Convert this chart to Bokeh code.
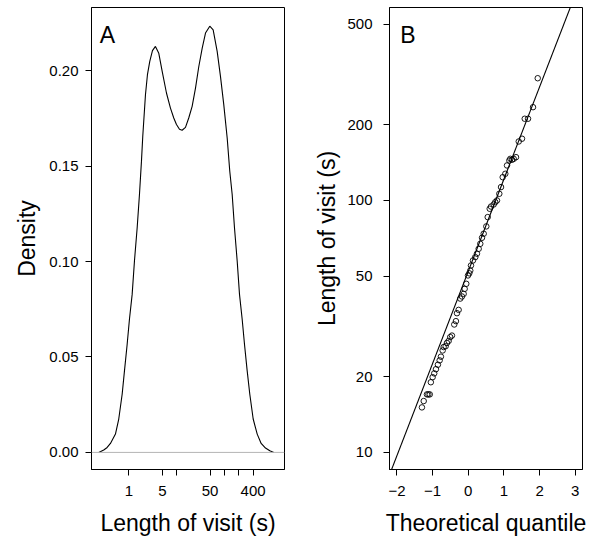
from bokeh.plotting import figure
from bokeh.layouts import row
from bokeh.models import Range1d, FixedTicker, Label, Span, NumeralTickFormatter
from bokeh.embed import file_html
from bokeh.resources import INLINE

# Panel A: density of visit length (seconds, log scale)
visit_len_s = [0.233, 0.296, 0.349, 0.409, 0.521, 0.611, 0.720, 0.805, 0.917, 1.024,
               1.167, 1.304, 1.486, 1.66, 1.828, 1.946, 2.218, 2.44, 2.73, 3.11,
               3.59, 4.22, 4.97, 6.11, 7.41, 8.69, 9.9, 11.45, 13.0, 15.3,
               17.9, 21.1, 24.8, 29.1, 34.3, 40.2, 49.4, 58.2, 70.6, 82.8,
               97.1, 114.5, 129.7, 145.7, 162.8, 185.5, 207.4, 236.0, 263.9, 300.6,
               341.0, 401.5, 487.5, 590.0, 727.8, 895.0, 1086.0]
density = [0.0, 0.0013, 0.0026, 0.0047, 0.0096, 0.0175, 0.0305, 0.0427, 0.0567, 0.0698,
           0.0828, 0.1003, 0.1177, 0.1351, 0.1526, 0.1655, 0.1874, 0.1979, 0.2049, 0.2105,
           0.2127, 0.2091, 0.1996, 0.1883, 0.1804, 0.1752, 0.1718, 0.1693, 0.1688, 0.1703,
           0.1752, 0.1813, 0.1909, 0.2022, 0.2118, 0.2197, 0.2233, 0.2214, 0.2101, 0.1970,
           0.1822, 0.1647, 0.1473, 0.1351, 0.1177, 0.1003, 0.0828, 0.0698, 0.0567, 0.0427,
           0.0305, 0.0175, 0.0096, 0.0047, 0.0023, 0.0009, 0.0]
a_x_ticks = [1, 5, 50, 400]
a_x_minor = [10, 100, 200]
a_y_ticks = [0.0, 0.05, 0.10, 0.15, 0.20]

# Panel B: quantile plot
theor_q = [-1.30, -1.25, -1.16, -1.12, -1.08, -1.05, -1.00, -0.955, -0.907, -0.851,
           -0.803, -0.767, -0.719, -0.691, -0.635, -0.598, -0.551, -0.506, -0.458, -0.393,
           -0.346, -0.317, -0.270, -0.225, -0.177, -0.129, -0.101, -0.056, -0.008, 0.028,
           0.056, 0.076, 0.132, 0.197, 0.244, 0.292, 0.337, 0.385, 0.433, 0.506,
           0.545, 0.601, 0.638, 0.713, 0.758, 0.806, 0.871, 0.919, 0.966, 1.039,
           1.087, 1.152, 1.180, 1.228, 1.275, 1.340, 1.416, 1.508, 1.584, 1.677,
           1.817, 1.949]
visit_sorted = [15.1, 16.0, 17.0, 17.0, 17.0, 19.0, 19.9, 20.6, 21.4, 22.3,
                23.2, 24.0, 25.4, 26.2, 26.4, 27.2, 27.7, 28.7, 29.1, 32.2,
                33.2, 35.7, 36.8, 40.8, 41.6, 42.6, 44.6, 46.7, 50.4, 51.4,
                52.7, 55.2, 57.8, 59.6, 61.5, 64.3, 67.3, 71.1, 73.8, 78.9,
                85.9, 92.7, 94.6, 96.4, 98.5, 100.0, 106.3, 113.0, 123.7, 127.6,
                137.7, 144.1, 146.3, 145.1, 146.3, 148.5, 171.4, 175.8, 211.0, 211.0,
                234.5, 305.5]
qq_intercept_log10 = 1.719
qq_slope_log10 = 0.3656
b_x_ticks = [-2, -1, 0, 1, 2, 3]
b_y_ticks = [10, 20, 50, 100, 200, 500]

FONT = "Liberation Sans"


def style(p):
    p.grid.visible = False
    p.outline_line_color = "black"
    p.outline_line_width = 1
    p.background_fill_color = "white"
    p.border_fill_color = "white"
    for ax in p.axis:
        ax.axis_line_color = "black"
        ax.major_tick_line_color = "black"
        ax.major_tick_out = 6
        ax.major_tick_in = 0
        ax.minor_tick_out = 6
        ax.minor_tick_in = 0
        ax.minor_tick_line_color = None
        ax.major_label_text_font = FONT
        ax.major_label_text_font_size = "15px"
        ax.major_label_text_color = "black"
        ax.axis_label_text_font = FONT
        ax.axis_label_text_font_size = "23px"
        ax.axis_label_text_font_style = "normal"
        ax.axis_label_text_color = "black"
    for ax in p.xaxis:
        ax.major_label_standoff = 10
        ax.axis_label_standoff = 11


p1 = figure(width=296, height=538, x_axis_type="log",
            x_range=Range1d(0.164, 1820), y_range=Range1d(-0.00895, 0.2331),
            output_backend="svg", toolbar_location=None,
            min_border_left=91, min_border_right=12, min_border_top=6, min_border_bottom=69)
style(p1)
p1.xaxis.ticker = FixedTicker(ticks=a_x_ticks, minor_ticks=a_x_minor)
p1.xaxis.minor_tick_line_color = "black"
p1.xaxis.formatter = NumeralTickFormatter(format="0")
p1.yaxis.ticker = FixedTicker(ticks=a_y_ticks)
p1.yaxis.formatter = NumeralTickFormatter(format="0.00")
p1.yaxis.major_label_standoff = 7
p1.yaxis.axis_label_standoff = 6
p1.xaxis.axis_label = "Length of visit (s)"
p1.yaxis.axis_label = "Density"
p1.add_layout(Span(location=0, dimension="width", line_color="#b5b5b5", line_width=1))
p1.line(visit_len_s, density, line_color="black", line_width=1.1)
p1.add_layout(Label(x=0.245, y=0.2185, text="A", text_font=FONT, text_font_size="23px",
                    text_baseline="alphabetic", text_color="black"))

p2 = figure(width=296, height=538, y_axis_type="log",
            x_range=Range1d(-2.21, 3.205), y_range=Range1d(8.56, 583),
            output_backend="svg", toolbar_location=None,
            min_border_left=93, min_border_right=10, min_border_top=7, min_border_bottom=69)
style(p2)
p2.xaxis.ticker = FixedTicker(ticks=b_x_ticks)
p2.xaxis.major_label_overrides = {-2: "\u22122", -1: "\u22121"}
p2.yaxis.ticker = FixedTicker(ticks=b_y_ticks)
p2.yaxis.formatter = NumeralTickFormatter(format="0")
p2.yaxis.major_label_standoff = 11
p2.yaxis.axis_label_standoff = 4
p2.xaxis.axis_label = "Theoretical quantile"
p2.yaxis.axis_label = "Length of visit (s)"

line_q = [-2.5, 3.5]
line_y = [10 ** (qq_intercept_log10 + qq_slope_log10 * q) for q in line_q]
p2.line(line_q, line_y, line_color="black", line_width=1.1)
p2.scatter(theor_q, visit_sorted, marker="circle", size=5.5, fill_color=None,
           line_color="black", line_width=0.9)
p2.add_layout(Label(x=-1.91, y=452, text="B", text_font=FONT, text_font_size="23px",
                    text_baseline="alphabetic", text_color="black"))

layout = row(p1, p2)
open("out.html", "w").write(file_html(layout, INLINE))
